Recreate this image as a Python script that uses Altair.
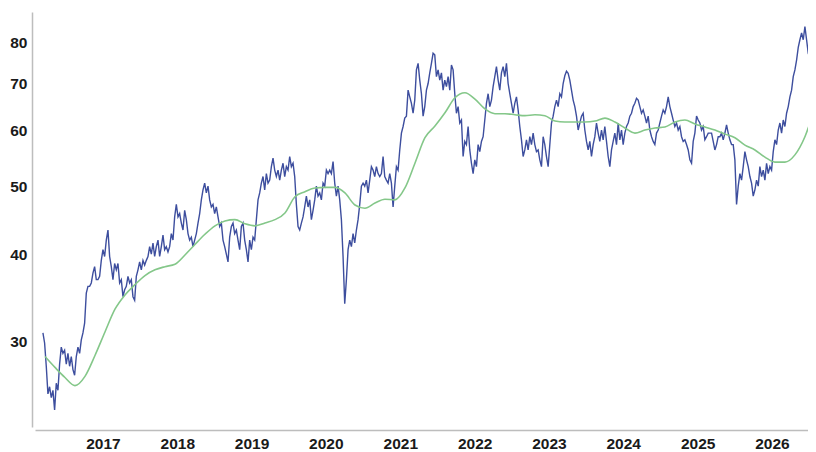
import altair as alt
import pandas as pd

# ---- data ----
tick_years = [2017, 2018, 2019, 2020, 2021, 2022, 2023, 2024, 2025, 2026]
y_ticks = [30, 40, 50, 60, 70, 80]

price_start = "2016-03-12"
price_end = "2026-07-31"
price_values = [
    # 2016 - early 2018
    30.9, 29.9, 27.7, 25.3, 25.9, 25.0, 25.6, 24.0, 26.2, 25.6,
    27.9, 29.5, 28.9, 29.2, 27.9, 28.9, 27.7, 28.6, 27.4, 26.9,
    28.6, 29.5, 28.9, 30.2, 30.9, 31.9, 35.2, 36.0, 36.0, 36.4,
    37.6, 38.4, 36.8, 36.8, 37.2, 39.2, 40.6, 39.7, 41.9, 43.3,
    39.7, 38.4, 36.8, 38.8, 38.0, 38.8, 36.4, 36.8, 34.8, 35.6,
    36.0, 37.2, 36.4, 36.8, 34.8, 34.4, 37.2, 38.0, 39.0, 38.0,
    39.2, 38.6, 39.2, 39.7, 41.0, 40.0, 41.5, 39.7, 41.0, 41.9,
    39.7, 41.0, 42.6, 40.6, 41.0, 40.3, 41.0, 42.8, 41.9,
    # 2018 - 2019
    45.2, 47.1, 45.2, 45.7, 44.3, 43.3, 46.2, 44.8, 42.8, 41.9,
    42.3, 41.0, 41.9, 42.8, 44.3, 45.7, 47.8, 49.4, 50.5, 48.9,
    50.0, 47.8, 46.7, 47.1, 45.7, 46.7, 45.2, 43.8, 44.3, 41.9,
    41.0, 40.0, 39.0, 42.3, 43.8, 44.3, 42.8, 43.3, 41.9, 40.6,
    43.8, 44.3, 41.9, 40.6, 39.0, 41.9, 40.6, 42.3, 41.9, 44.8,
    47.8, 48.9, 50.5, 51.6, 49.4, 52.1, 50.5, 51.0, 53.3, 54.8,
    52.7, 51.6, 52.7, 51.0, 52.7, 53.9, 51.6, 53.3, 52.7, 55.1,
    53.3, 53.9, 51.6, 47.1, 43.8, 43.3, 44.3, 45.2,
    # late 2019 - 2021
    46.7, 48.4, 46.7, 47.8, 44.8, 46.2, 47.8, 50.0, 48.4, 48.9,
    47.8, 50.5, 50.0, 52.7, 52.1, 52.7, 52.1, 54.2, 50.5, 48.4,
    50.0, 47.8, 44.8, 39.7, 34.0, 36.8, 40.6, 41.9, 41.0, 42.8,
    41.5, 43.3, 44.8, 47.1, 50.0, 50.5, 50.0, 51.0, 48.9, 51.0,
    53.3, 52.7, 51.6, 53.3, 52.1, 51.6, 52.1, 55.1, 51.6, 51.0,
    50.5, 52.1, 50.5, 46.7, 50.0, 53.3, 52.7, 56.3, 59.5, 60.8,
    62.5, 62.9, 68.5, 67.0, 65.6, 63.5, 66.3, 73.2, 74.8, 70.8,
    67.7, 62.9, 64.9, 68.5, 70.0, 72.5, 74.8, 77.3,
    # 2021 - 2023
    76.9, 71.6, 73.2, 70.8, 72.5, 68.5, 70.8, 69.3, 71.6, 68.5,
    74.4, 73.2, 67.7, 63.5, 64.9, 61.5, 62.1, 55.1, 57.9, 57.3,
    60.8, 56.3, 53.9, 52.1, 54.5, 53.3, 57.3, 56.0, 57.9, 58.8,
    62.1, 65.6, 67.7, 64.9, 66.3, 69.3, 71.6, 74.0, 70.8, 68.5,
    72.5, 74.0, 71.6, 74.8, 70.0, 67.7, 65.6, 63.5, 65.6, 67.0,
    64.2, 60.8, 58.2, 55.1, 56.3, 58.2, 56.3, 58.8, 57.3, 59.5,
    57.3, 56.0, 56.3, 54.5, 53.3, 58.8, 57.3, 55.1, 53.3, 57.3,
    61.5, 62.9, 64.9, 66.3, 64.9, 67.7, 67.0, 70.0,
    # 2023 - 2025
    71.8, 72.9, 72.4, 70.8, 68.5, 66.3, 64.9, 62.9, 60.1, 61.5,
    62.9, 63.5, 60.1, 57.9, 56.3, 57.9, 55.1, 57.3, 58.8, 61.5,
    59.5, 57.9, 60.1, 58.2, 60.8, 57.9, 55.1, 53.3, 56.3, 57.9,
    59.5, 57.3, 61.5, 58.2, 60.1, 57.3, 59.5, 60.8, 61.5, 62.9,
    63.5, 64.9, 65.6, 66.7, 66.3, 64.9, 63.5, 64.2, 62.9, 61.5,
    62.9, 60.1, 58.8, 57.9, 57.3, 59.5, 60.1, 61.5, 62.9, 64.2,
    63.5, 64.9, 67.0, 64.9, 63.5, 62.1, 60.8, 61.5, 60.1, 60.8,
    58.8, 57.9, 58.2, 57.3, 56.3, 54.5, 53.9, 57.9,
    # 2025 - 2026
    59.5, 62.9, 62.1, 61.5, 60.1, 60.8, 58.2, 58.8, 59.5, 59.5,
    59.5, 57.9, 56.3, 57.3, 58.8, 58.8, 59.5, 58.2, 59.5, 61.1,
    59.5, 58.2, 57.3, 57.3, 54.5, 47.1, 50.0, 52.1, 51.0, 53.3,
    56.0, 54.5, 53.3, 51.6, 50.5, 48.4, 49.4, 51.0, 50.0, 53.3,
    51.6, 52.7, 51.0, 53.9, 52.1, 53.3, 52.7, 56.0, 58.2, 57.3,
    60.1, 61.5, 59.5, 62.1, 60.8, 63.5, 64.9, 67.0, 68.5, 71.6,
    73.2, 75.6, 78.8, 80.8, 82.6, 80.8, 84.4, 80.8, 77.3, 76.4,
    71.6, 78.8, 82.6,
]

ma_start = "2016-03-22"
ma_end = "2026-07-31"
ma_values = [
    28.6, 27.6, 26.7, 26.0, 26.8, 28.7, 31.0, 33.4, 35.0, 36.2,
    37.3, 38.0, 38.4, 38.7, 39.9, 41.3, 42.7, 43.9, 44.6, 44.8,
    44.2, 43.9, 44.3, 44.8, 45.8, 48.3, 49.1, 49.7, 49.8, 49.8,
    48.9, 47.0, 46.5, 47.3, 47.9, 47.8, 49.7, 53.9, 58.6, 60.9,
    63.6, 66.8, 67.9, 66.5, 64.4, 63.4, 63.4, 63.2, 63.0, 63.2,
    63.0, 61.9, 61.7, 61.7, 61.7, 61.9, 62.5, 61.7, 60.5, 59.5,
    60.1, 60.5, 60.7, 61.7, 62.1, 61.3, 60.7, 60.1, 59.3, 58.6,
    57.2, 56.3, 55.0, 54.1, 54.1, 55.4, 58.8, 64.6,
]

price_df = pd.DataFrame({
    "date": pd.date_range(price_start, price_end, periods=len(price_values)),
    "value": price_values,
})
ma_df = pd.DataFrame({
    "date": pd.date_range(ma_start, ma_end, periods=len(ma_values)),
    "value": ma_values,
})

font = "Liberation Sans"
axis_style = dict(
    title=None, grid=False, ticks=False, offset=3,
    domainColor="#bdbdbd", domainWidth=1.5,
    labelFont=font, labelFontSize=15.5, labelFontWeight="bold",
    labelColor="#1a1a1a",
)

x_enc = alt.X(
    "date:T",
    scale=alt.Scale(domain=[alt.DateTime(year=2016, month=2, date=2),
                            alt.DateTime(year=2026, month=6, date=27)]),
    axis=alt.Axis(
        values=[alt.DateTime(year=y, month=1, date=1) for y in tick_years],
        format="%Y", labelPadding=6, **axis_style,
    ),
)
y_enc = alt.Y(
    "value:Q",
    scale=alt.Scale(type="log", domain=[22.7, 88.5], nice=False),
    axis=alt.Axis(values=y_ticks, labelPadding=5, **axis_style),
)

price_line = alt.Chart(price_df).mark_line(color="#3d4e9e", strokeWidth=1.4).encode(x=x_enc, y=y_enc)
ma_line = alt.Chart(ma_df).mark_line(color="#84c789", strokeWidth=1.6, interpolate="monotone").encode(x="date:T", y="value:Q")

chart = alt.layer(price_line, ma_line).properties(
    width=773, height=415,
    padding={"left": 27, "top": 4, "right": 0, "bottom": 24},
    autosize=alt.AutoSizeParams(type="none"),
).configure_view(stroke=None)

chart.save("out.html", embed_options={"renderer": "svg", "actions": False})
